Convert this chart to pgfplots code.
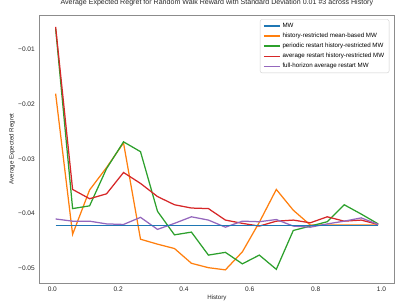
\documentclass[border=0pt]{standalone}
\usepackage{pgfplots}
\pgfplotsset{compat=1.18}
\usepackage{fontspec}
\setmainfont{Liberation Sans}
\definecolor{cMW}{RGB}{31,119,180}
\definecolor{cHR}{RGB}{255,127,14}
\definecolor{cPR}{RGB}{44,160,44}
\definecolor{cAR}{RGB}{214,39,40}
\definecolor{cFH}{RGB}{148,103,189}
\definecolor{txt}{RGB}{38,38,38}
\begin{document}
\begin{tikzpicture}
\begin{axis}[
  at={(0,0)}, anchor=south west,
  scale only axis,
  width=354.8bp, height=268bp,
  xmin=-0.039, xmax=1.039,
  ymin=-0.0527, ymax=-0.00372,
  scaled x ticks=false, scaled y ticks=false,
  axis line style={draw=black!45, line width=0.9bp},
  major tick length=0pt,
  xtick={0,0.2,0.4,0.6,0.8,1.0},
  xticklabels={0.0,0.2,0.4,0.6,0.8,1.0},
  ytick={-0.05,-0.04,-0.03,-0.02,-0.01},
  yticklabels={−0.05,−0.04,−0.03,−0.02,−0.01},
  tick label style={font=\fontsize{6.6}{7.5}\selectfont, text=txt},
  yticklabel style={inner sep=0pt, xshift=-4.5bp},
  xticklabel style={inner sep=0pt, yshift=-3.6bp},
  title={Average Expected Regret for Random Walk Reward with Standard Deviation 0.01 \#3 across History},
  title style={font=\fontsize{7.1}{8.5}\selectfont, text=txt, at={(axis description cs:0.5,1)}, anchor=south, inner sep=0pt, yshift=3bp},
  xlabel={History},
  ylabel={Average Expected Regret},
  xlabel style={font=\fontsize{6.2}{7.4}\selectfont, text=txt, at={(axis description cs:0.5,-0.0549)}, anchor=center},
  ylabel style={font=\fontsize{6.2}{7.4}\selectfont, text=txt, at={(axis description cs:-0.0775,0.5)}, anchor=center},
  legend style={at={(axis description cs:1,1)}, anchor=north east, xshift=-5bp, yshift=-4.3bp,
    draw=black!20, rounded corners=2bp, fill=white,
    font=\fontsize{6.2}{7.4}\selectfont,
    inner xsep=3bp, inner ysep=1.5bp, row sep=0.2bp},
  legend cell align=left,
  legend image code/.code={\draw[#1] (0bp,0bp) -- (16bp,0bp);},
  every axis plot/.append style={line width=1.25bp, mark=none},
]
\addlegendimage{draw=cMW, line width=1.4bp}
\addlegendentry{MW}
\addplot[draw=cHR] coordinates {
(0.0100,-0.0181)(0.0616,-0.0438)(0.1132,-0.0357)(0.1647,-0.0316)(0.2163,-0.0271)
(0.2679,-0.0447)(0.3195,-0.0456)(0.3711,-0.0464)(0.4226,-0.0491)(0.4742,-0.0499)
(0.5258,-0.0503)(0.5774,-0.0470)(0.6289,-0.0416)(0.6805,-0.0356)(0.7321,-0.0394)
(0.7837,-0.0421)(0.8353,-0.0421)(0.8868,-0.0421)(0.9384,-0.0421)(0.9900,-0.0421)};
\addlegendentry{history-restricted mean-based MW}
\addplot[draw=cPR] coordinates {
(0.0100,-0.0062)(0.0616,-0.0391)(0.1132,-0.0386)(0.1647,-0.0318)(0.2163,-0.0269)
(0.2679,-0.0287)(0.3195,-0.0396)(0.3711,-0.0439)(0.4226,-0.0434)(0.4742,-0.0476)
(0.5258,-0.0471)(0.5774,-0.0492)(0.6289,-0.0476)(0.6805,-0.0502)(0.7321,-0.0431)
(0.7837,-0.0423)(0.8353,-0.0415)(0.8868,-0.0384)(0.9384,-0.0401)(0.9900,-0.0419)};
\addlegendentry{periodic restart history-restricted MW}
\addplot[draw=cAR] coordinates {
(0.0100,-0.0059)(0.0616,-0.0356)(0.1132,-0.0373)(0.1647,-0.0364)(0.2163,-0.0325)
(0.2679,-0.0345)(0.3195,-0.0369)(0.3711,-0.0384)(0.4226,-0.0390)(0.4742,-0.0391)
(0.5258,-0.0412)(0.5774,-0.0418)(0.6289,-0.0423)(0.6805,-0.0414)(0.7321,-0.0412)
(0.7837,-0.0417)(0.8353,-0.0406)(0.8868,-0.0414)(0.9384,-0.0412)(0.9900,-0.0420)};
\addlegendentry{average restart history-restricted MW}
\addplot[draw=cFH] coordinates {
(0.0100,-0.0410)(0.0616,-0.0414)(0.1132,-0.0414)(0.1647,-0.0419)(0.2163,-0.0420)
(0.2679,-0.0407)(0.3195,-0.0429)(0.3711,-0.0418)(0.4226,-0.0406)(0.4742,-0.0412)
(0.5258,-0.0425)(0.5774,-0.0414)(0.6289,-0.0415)(0.6805,-0.0411)(0.7321,-0.0423)
(0.7837,-0.0425)(0.8353,-0.0419)(0.8868,-0.0414)(0.9384,-0.0408)(0.9900,-0.0420)};
\addlegendentry{full-horizon average restart MW}
\addplot[draw=cMW, line width=1.4bp, forget plot] coordinates {
(0.0100,-0.0422)(0.0616,-0.0422)(0.1132,-0.0422)(0.1647,-0.0422)(0.2163,-0.0422)
(0.2679,-0.0422)(0.3195,-0.0422)(0.3711,-0.0422)(0.4226,-0.0422)(0.4742,-0.0422)
(0.5258,-0.0422)(0.5774,-0.0422)(0.6289,-0.0422)(0.6805,-0.0422)(0.7321,-0.0422)
(0.7837,-0.0422)(0.8353,-0.0422)(0.8868,-0.0422)(0.9384,-0.0422)(0.9900,-0.0422)};
\end{axis}
\pgfresetboundingbox
\path[use as bounding box] (-39.5bp,-23bp) rectangle (356.5bp,283bp);
\end{tikzpicture}
\end{document}
